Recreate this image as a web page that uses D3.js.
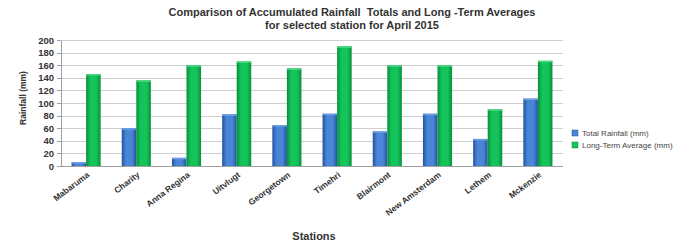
<!DOCTYPE html>
<html lang="en">
<head>
  <meta charset="UTF-8">
  <title>Rainfall April 2015</title>
  <script src="https://d3js.org/d3.v7.min.js"></script>
  <style>
    body { margin: 0; background: #fff; }
    svg { display: block; font-family: "Liberation Sans", Arial, sans-serif; }
    .grid line { stroke: #cfcfcf; shape-rendering: crispEdges; }
    .grid path { display: none; }
    .yaxis text { font-size: 9.5px; font-weight: bold; fill: #333; }
    .yaxis line, .yaxis path { stroke: #a0a0a0; shape-rendering: crispEdges; }
    .xlab { font-size: 8.5px; font-weight: bold; fill: #333; }
    .title { font-size: 11px; font-weight: bold; fill: #333; white-space: pre; }
    .legend text { font-size: 8px; fill: #444; }
  </style>
</head>
<body>
  <svg id="chart" width="694" height="245"></svg>
  <script>
    // data
    const stations = ["Mabaruma", "Charity", "Anna Regina", "Uitvlugt", "Georgetown",
                      "Timehri", "Blairmont", "New Amsterdam", "Lethem", "Mckenzie"];
    const totalRainfall = [6, 60, 13, 82, 65, 83, 55, 83, 43, 107];
    const longTermAvg  = [146, 136, 160, 166, 155, 190, 160, 160, 90, 167];
    const seriesNames = ["Total Rainfall (mm)", "Long-Term Average (mm)"];
    const yTicks = [0, 20, 40, 60, 80, 100, 120, 140, 160, 180, 200];

    const rows = stations.map((s, i) => ({ station: s, values: [totalRainfall[i], longTermAvg[i]] }));

    const svg = d3.select("#chart");
    const plot = { left: 61, right: 563, top: 40, bottom: 166 };

    // gradients for the cylinder look
    const defs = svg.append("defs");
    const grads = [
      { id: "g-blue", edge: "#24529c", mid: "#4a86d8", top: "#6f9fe0" },
      { id: "g-green", edge: "#06903a", mid: "#14c45a", top: "#4fd884" }
    ];
    grads.forEach(g => {
      const lg = defs.append("linearGradient").attr("id", g.id)
        .attr("x1", "0%").attr("x2", "100%").attr("y1", "0%").attr("y2", "0%");
      lg.append("stop").attr("offset", "0%").attr("stop-color", g.edge);
      lg.append("stop").attr("offset", "30%").attr("stop-color", g.mid);
      lg.append("stop").attr("offset", "70%").attr("stop-color", g.mid);
      lg.append("stop").attr("offset", "100%").attr("stop-color", g.edge);
    });

    const x = d3.scaleBand().domain(stations)
      .range([plot.left, plot.right]).paddingInner(0.42).paddingOuter(0.21);
    const xs = d3.scaleBand().domain([0, 1]).range([0, x.bandwidth()]);
    const y = d3.scaleLinear().domain([0, 200]).range([plot.bottom, plot.top]);

    // grid
    svg.append("g").attr("class", "grid")
      .attr("transform", `translate(${plot.left},0)`)
      .call(d3.axisLeft(y).tickValues(yTicks.slice(1)).tickSize(-(plot.right - plot.left)).tickFormat(""));

    // y axis
    svg.append("g").attr("class", "yaxis")
      .attr("transform", `translate(${plot.left},0)`)
      .call(d3.axisLeft(y).tickValues(yTicks).tickSize(4).tickSizeOuter(0).tickPadding(3));

    // x axis line
    svg.append("line")
      .attr("x1", plot.left).attr("x2", plot.right)
      .attr("y1", y(0) + 0.5).attr("y2", y(0) + 0.5)
      .attr("stroke", "#a0a0a0");

    // bars
    const groups = svg.selectAll(".grp").data(rows).enter().append("g")
      .attr("transform", d => `translate(${x(d.station)},0)`);
    groups.selectAll("rect").data(d => d.values).enter().append("rect")
      .attr("x", (v, i) => xs(i))
      .attr("y", v => y(v))
      .attr("width", xs.bandwidth())
      .attr("height", v => y(0) - y(v))
      .attr("fill", (v, i) => `url(#${grads[i].id})`);
    groups.selectAll(".cap").data(d => d.values).enter().append("rect")
      .attr("class", "cap")
      .attr("x", (v, i) => xs(i))
      .attr("y", v => y(v))
      .attr("width", xs.bandwidth())
      .attr("height", 1.5)
      .attr("fill", (v, i) => grads[i].top);

    // x labels
    svg.selectAll(".xlab").data(stations).enter().append("text")
      .attr("class", "xlab")
      .attr("text-anchor", "end")
      .attr("transform", d => `translate(${x(d) + x.bandwidth() / 2 + 4},${plot.bottom + 10}) rotate(-37)`)
      .text(d => d);

    // titles
    svg.append("text").attr("class", "title").attr("text-anchor", "middle")
      .attr("x", 352).attr("y", 16)
      .text("Comparison of Accumulated Rainfall  Totals and Long -Term Averages");
    svg.append("text").attr("class", "title").attr("text-anchor", "middle")
      .attr("x", 352).attr("y", 29)
      .text("for selected station for April 2015");
    svg.append("text").attr("class", "title").attr("text-anchor", "middle")
      .attr("x", 314).attr("y", 240).text("Stations");
    svg.append("text").attr("class", "title").attr("text-anchor", "middle")
      .style("font-size", "8.5px")
      .attr("transform", "translate(26,98) rotate(-90)")
      .text("Rainfall (mm)");

    // legend
    const legend = svg.append("g").attr("class", "legend");
    seriesNames.forEach((name, i) => {
      legend.append("rect")
        .attr("x", 572).attr("y", 130 + i * 12)
        .attr("width", 6).attr("height", 6)
        .attr("fill", grads[i].mid).attr("stroke", grads[i].edge).attr("stroke-width", 0.5);
      legend.append("text")
        .attr("x", 582).attr("y", 136 + i * 12)
        .text(name);
    });
  </script>
</body>
</html>
